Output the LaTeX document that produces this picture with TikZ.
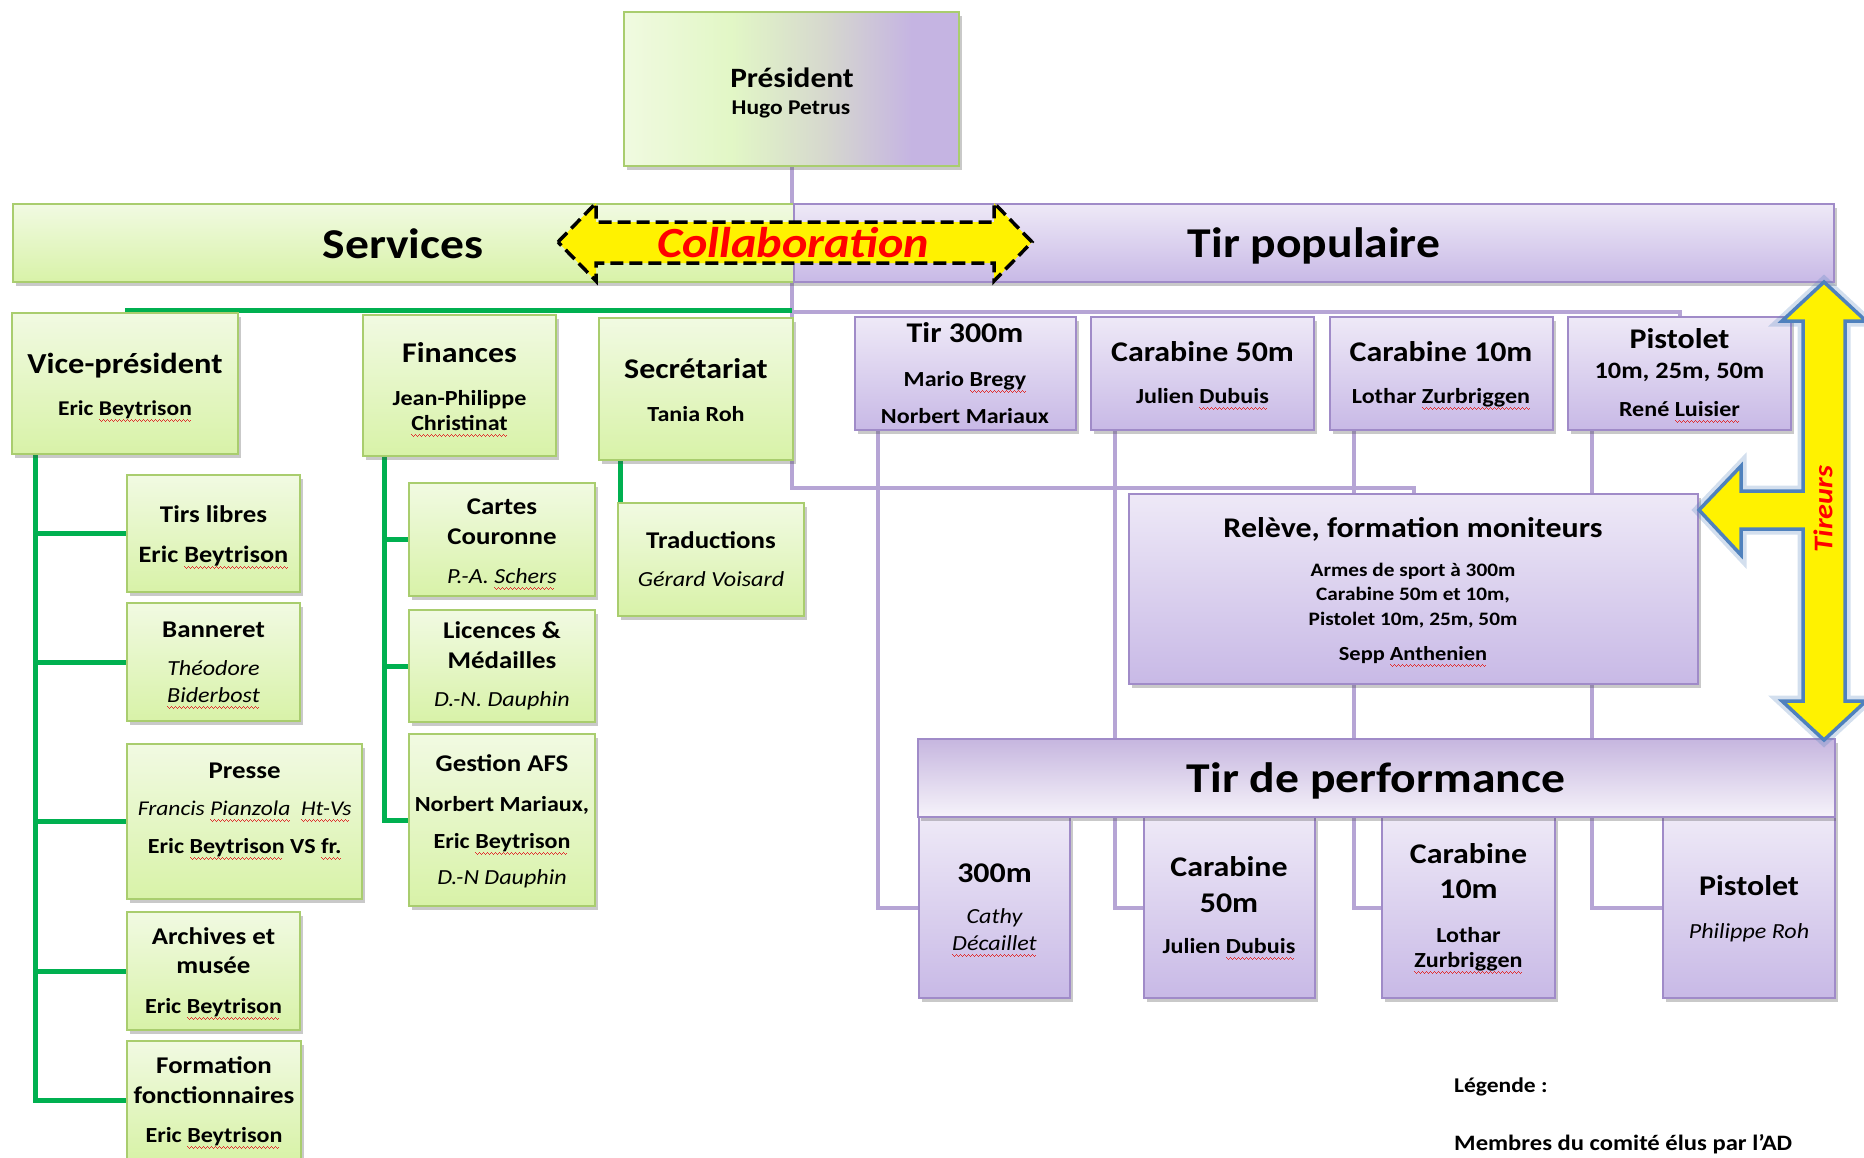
\documentclass[tikz,border=0pt]{standalone}
\usepackage{fontspec}
\setmainfont{Carlito}[FakeStretch=1.12]
\usetikzlibrary{shadows}
\definecolor{gtop}{HTML}{F1FAE2}
\definecolor{gbot}{HTML}{D8F2A8}
\definecolor{gborder}{HTML}{A9CD6E}
\definecolor{ptop}{HTML}{EEE9F7}
\definecolor{pbot}{HTML}{C8B9E6}
\definecolor{pborder}{HTML}{A08BC8}
\definecolor{pdark}{HTML}{C6B6DF}
\definecolor{plight}{HTML}{F6F3FA}
\definecolor{glinec}{HTML}{00B050}
\definecolor{plinec}{HTML}{B6A5D5}
\definecolor{arrblue}{HTML}{4F81BD}
\definecolor{sqred}{HTML}{E03030}
\definecolor{prA}{HTML}{F0FAE0}
\definecolor{prB}{HTML}{E2F7C6}
\definecolor{prC}{HTML}{D6D8CE}
\definecolor{prD}{HTML}{C5B4E2}
\pgfdeclarehorizontalshading{presshade}{100bp}{color(0bp)=(prA); color(25bp)=(prA); color(41bp)=(prB); color(55bp)=(prC); color(68bp)=(prD); color(75bp)=(prD); color(100bp)=(prD)}
\pgfdeclarelayer{bg}
\pgfsetlayers{bg,main}
\newcommand\wavebit{\textcolor{sqred}{\rule[-4.6pt]{1pt}{1pt}\rule[-5.6pt]{1pt}{1pt}\rule[-6.6pt]{1pt}{1pt}\rule[-5.6pt]{1pt}{1pt}}}
\newsavebox\sqbox
\newcommand\sq[1]{\sbox\sqbox{#1}\rlap{\hbox to \wd\sqbox{\leaders\hbox{\wavebit}\hfill}}\usebox\sqbox}
\newcommand\fs[1]{\fontsize{#1}{#1}\selectfont}
\newcommand\bx[6]{\node[#6, minimum width={(#4)-(#2)}, minimum height={(#5)-(#3)}] (#1) at ({((#2)+(#4))/2},{((#3)+(#5))/2}) {};}
\newcommand\tx[5]{\node[anchor=base, inner sep=0pt, font=#4] (#1) at (#2,#3) {#5};}
\tikzset{
  boxshadow/.style={drop shadow={shadow xshift=2.5pt, shadow yshift=-3.5pt, opacity=0.3, fill=black!70}},
  gbox/.style={draw=gborder, line width=1.6pt, top color=gtop, bottom color=gbot, boxshadow, inner sep=0pt, outer sep=0pt},
  pbox/.style={draw=pborder, line width=1.6pt, top color=ptop, bottom color=pbot, boxshadow, inner sep=0pt, outer sep=0pt},
  pbar/.style={draw=pborder, line width=1.6pt, top color=pdark, bottom color=plight, boxshadow, inner sep=0pt, outer sep=0pt},
  presbox/.style={draw=gborder, line width=1.6pt, shading=presshade, boxshadow, inner sep=0pt, outer sep=0pt},
  gline/.style={draw=glinec, line width=5pt},
  pline/.style={draw=plinec, line width=4pt},
}
\begin{document}
\begin{tikzpicture}[x=1pt,y=-1pt]
\useasboundingbox (0,0) rectangle (1864,1157);
% ---------- boxes ----------
\bx{pres}{624}{12}{959}{166}{presbox}
\bx{serv}{13}{204}{794}{282}{gbox}
\bx{tpop}{794}{204}{1834}{282}{pbox}
\bx{vp}{12}{313}{238}{454}{gbox}
\bx{fin}{363}{315}{556}{456}{gbox}
\bx{sec}{599}{318}{793}{460}{gbox}
\bx{tl}{127}{475}{300}{592}{gbox}
\bx{ban}{127}{603}{300}{721}{gbox}
\bx{pr}{127}{744}{362}{899}{gbox}
\bx{arc}{127}{912}{300}{1030}{gbox}
\bx{form}{127}{1041}{301}{1159}{gbox}
\bx{cc}{409}{483}{595}{596}{gbox}
\bx{lic}{409}{610}{595}{722}{gbox}
\bx{gafs}{409}{734}{595}{906}{gbox}
\bx{trad}{618}{503}{804}{616}{gbox}
\bx{t300}{855}{317}{1076}{430}{pbox}
\bx{c50}{1091}{317}{1314}{430}{pbox}
\bx{c10}{1330}{317}{1553}{430}{pbox}
\bx{pis}{1568}{317}{1791}{430}{pbox}
\bx{rel}{1129}{494}{1698}{684}{pbox}
\bx{p300}{919}{817}{1070}{998}{pbox}
\bx{pc50}{1144}{817}{1315}{998}{pbox}
\bx{pc10}{1382}{817}{1555}{998}{pbox}
\bx{ppis}{1663}{817}{1835}{998}{pbox}
\bx{tperf}{918}{739}{1835}{817}{pbar}
% ---------- connectors ----------
\coordinate (gx) at (35.6,0);
\coordinate (fx) at (384.4,0);
\coordinate (sx) at (620.8,0);
\coordinate (v1) at (878,0);
\coordinate (v2) at (1115,0);
\coordinate (v3) at (1354,0);
\coordinate (v4) at (1592,0);
\coordinate (gbus) at (0,310);
\coordinate (tbus) at (0,312);
\coordinate (rbus) at (0,488);
\begin{pgfonlayer}{bg}
\draw[pline] (pres.south) -- (pres.south |- rbus) -| (rel.north);
\draw[pline] (pres.south |- tbus) -| (pis.north);
\draw[pline] (t300.south -| v1) |- (p300.west);
\draw[pline] (c50.south -| v2) |- (pc50.west);
\draw[pline] (c10.south -| v3) |- (pc10.west);
\draw[pline] (pis.south -| v4) |- (ppis.west);
\draw[gline] (vp.north |- gbus) -- (pres.south |- gbus);
\draw[gline] (vp.south -| gx) |- (form.west);
\foreach \b in {tl,ban,pr,arc} \draw[gline] (\b.west -| gx) -- (\b.west);
\draw[gline] (fin.south -| fx) |- (gafs.west);
\foreach \b in {cc,lic} \draw[gline] (\b.west -| fx) -- (\b.west);
\draw[gline] (sec.south -| sx) -- (trad.north -| sx);
\end{pgfonlayer}
% ---------- arrows ----------
\draw[draw=black, fill=yellow, line width=3.5pt, dash pattern=on 13pt off 6pt, line join=miter]
  (558,242) -- (596,203) -- (596,222) -- (994,222) -- (994,203) -- (1032,242)
  -- (994,281) -- (994,263) -- (596,263) -- (596,281) -- cycle;
\path[draw=arrblue, draw opacity=0.25, line width=11pt, line join=miter]
  (1824,282) -- (1866,321) -- (1845,321) -- (1845,701) -- (1866,701) -- (1824,740)
  -- (1782,701) -- (1803,701) -- (1803,529) -- (1741,529) -- (1741,555) -- (1699,510)
  -- (1741,466) -- (1741,491) -- (1803,491) -- (1803,321) -- (1782,321) -- cycle;
\path[draw=arrblue, fill=yellow, line width=3.5pt, line join=miter]
  (1824,282) -- (1866,321) -- (1845,321) -- (1845,701) -- (1866,701) -- (1824,740)
  -- (1782,701) -- (1803,701) -- (1803,529) -- (1741,529) -- (1741,555) -- (1699,510)
  -- (1741,466) -- (1741,491) -- (1803,491) -- (1803,321) -- (1782,321) -- cycle;
% ---------- texts ----------
\tx{pres1}{792}{87}{\fs{28}\bfseries}{Président}
\tx{pres2}{791}{114}{\fs{21}\bfseries}{Hugo Petrus}
\tx{serv1}{403}{258}{\fs{42.5}\bfseries}{Services}
\tx{tpop1}{1314}{257}{\fs{42.5}\bfseries}{Tir populaire}
\tx{collab}{793}{257}{\fs{43}\bfseries\itshape\color{red}}{Collaboration}
\node[rotate=90, inner sep=0pt, font=\fs{27}\bfseries\itshape\color{red}] (tir) at (1823,509) {Tireurs};
\tx{vp1}{125}{373}{\fs{29}\bfseries}{Vice-président}
\tx{vp2}{125}{415}{\fs{21}\bfseries}{Eric \sq{Beytrison}}
\tx{fin1}{459.5}{362}{\fs{28.5}\bfseries}{Finances}
\tx{fin2}{459.5}{405}{\fs{21.5}\bfseries}{Jean-Philippe}
\tx{fin3}{459.5}{430}{\fs{21.5}\bfseries}{\sq{Christinat}}
\tx{sec1}{696}{378}{\fs{28.5}\bfseries}{Secrétariat}
\tx{sec2}{696}{421}{\fs{21.5}\bfseries}{Tania Roh}
\tx{tl1}{213.5}{522}{\fs{24}\bfseries}{Tirs libres}
\tx{tl2}{213.5}{562}{\fs{23.5}\bfseries}{Eric \sq{Beytrison}}
\tx{ban1}{213.5}{637}{\fs{24}\bfseries}{Banneret}
\tx{ban2}{213.5}{675.5}{\fs{21.5}\itshape}{Théodore}
\tx{ban3}{213.5}{702}{\fs{21.5}\itshape}{\sq{Biderbost}}
\tx{pr1}{244.7}{778}{\fs{24}\bfseries}{Presse}
\tx{pr2}{244.7}{815.6}{\fs{21}\itshape}{Francis \sq{Pianzola}\ \ \sq{Ht-Vs}}
\tx{pr3}{244.7}{853}{\fs{21.5}\bfseries}{Eric \sq{Beytrison} VS \sq{fr.}}
\tx{arc1}{213.5}{944}{\fs{24}\bfseries}{Archives et}
\tx{arc2}{213.5}{973}{\fs{24}\bfseries}{musée}
\tx{arc3}{213.5}{1013}{\fs{21.5}\bfseries}{Eric \sq{Beytrison}}
\tx{form1}{214}{1073}{\fs{24}\bfseries}{Formation}
\tx{form2}{214}{1103}{\fs{24}\bfseries}{fonctionnaires}
\tx{form3}{214}{1142}{\fs{21.5}\bfseries}{Eric \sq{Beytrison}}
\tx{cc1}{502}{514}{\fs{24}\bfseries}{Cartes}
\tx{cc2}{502}{544.4}{\fs{24}\bfseries}{Couronne}
\tx{cc3}{502}{583}{\fs{21.5}\itshape}{P.-A. \sq{Schers}}
\tx{lic1}{502}{638.7}{\fs{24}\bfseries}{Licences \&}
\tx{lic2}{502}{668}{\fs{24}\bfseries}{Médailles}
\tx{lic3}{502}{706.7}{\fs{21.5}\itshape}{D.-N. Dauphin}
\tx{ga1}{502}{771}{\fs{24}\bfseries}{Gestion AFS}
\tx{ga2}{502}{811}{\fs{21.5}\bfseries}{Norbert Mariaux,}
\tx{ga3}{502}{848}{\fs{21.5}\bfseries}{Eric \sq{Beytrison}}
\tx{ga4}{502}{884}{\fs{21.5}\itshape}{D.-N Dauphin}
\tx{tr1}{711}{548}{\fs{24}\bfseries}{Traductions}
\tx{tr2}{711}{586.7}{\fs{21.5}\itshape}{Gérard Voisard}
\tx{t3001}{965}{342.5}{\fs{28.5}\bfseries}{Tir 300m}
\tx{t3002}{965}{386}{\fs{21.5}\bfseries}{Mario \sq{Bregy}}
\tx{t3003}{965}{423}{\fs{21.5}\bfseries}{Norbert Mariaux}
\tx{c501}{1202.5}{361}{\fs{28.5}\bfseries}{Carabine 50m}
\tx{c502}{1202.5}{403}{\fs{21.5}\bfseries}{Julien \sq{Dubuis}}
\tx{c101}{1441}{361}{\fs{28.5}\bfseries}{Carabine 10m}
\tx{c102}{1441}{403}{\fs{21.5}\bfseries}{Lothar \sq{Zurbriggen}}
\tx{pis1}{1679.5}{348}{\fs{28.5}\bfseries}{Pistolet}
\tx{pis2}{1679.5}{378}{\fs{23.5}\bfseries}{10m, 25m, 50m}
\tx{pis3}{1679.5}{416}{\fs{21.5}\bfseries}{René \sq{Luisier}}
\tx{rel1}{1413}{537}{\fs{28.5}\bfseries}{Relève, formation moniteurs}
\tx{rel2}{1413}{576}{\fs{19}\bfseries}{Armes de sport à 300m}
\tx{rel3}{1413}{600}{\fs{19}\bfseries}{Carabine 50m et 10m,}
\tx{rel4}{1413}{625}{\fs{19}\bfseries}{Pistolet 10m, 25m, 50m}
\tx{rel5}{1413}{660}{\fs{20}\bfseries}{Sepp \sq{Anthenien}}
\tx{tperf1}{1376}{792}{\fs{42.5}\bfseries}{Tir de performance}
\tx{p3001}{994.5}{882}{\fs{28.5}\bfseries}{300m}
\tx{p3002}{994.5}{923}{\fs{21.5}\itshape}{Cathy}
\tx{p3003}{994.5}{950}{\fs{21.5}\itshape}{\sq{Décaillet}}
\tx{pc501}{1229}{876}{\fs{28.5}\bfseries}{Carabine}
\tx{pc502}{1229}{912}{\fs{28.5}\bfseries}{50m}
\tx{pc503}{1229}{953}{\fs{21.5}\bfseries}{Julien \sq{Dubuis}}
\tx{pc101}{1468.5}{863}{\fs{28.5}\bfseries}{Carabine}
\tx{pc102}{1468.5}{898}{\fs{28.5}\bfseries}{10m}
\tx{pc103}{1468.5}{942}{\fs{21.5}\bfseries}{Lothar}
\tx{pc104}{1468.5}{967}{\fs{21.5}\bfseries}{\sq{Zurbriggen}}
\tx{ppis1}{1749}{895}{\fs{28.5}\bfseries}{Pistolet}
\tx{ppis2}{1749}{938}{\fs{21.5}\itshape}{Philippe Roh}
\node[anchor=base west, inner sep=0pt, font=\fs{21}\bfseries] (leg1) at (1454,1092) {Légende :};
\node[anchor=base west, inner sep=0pt, font=\fs{22}\bfseries] (leg2) at (1454,1150) {Membres du comité élus par l’AD};
\end{tikzpicture}
\end{document}
